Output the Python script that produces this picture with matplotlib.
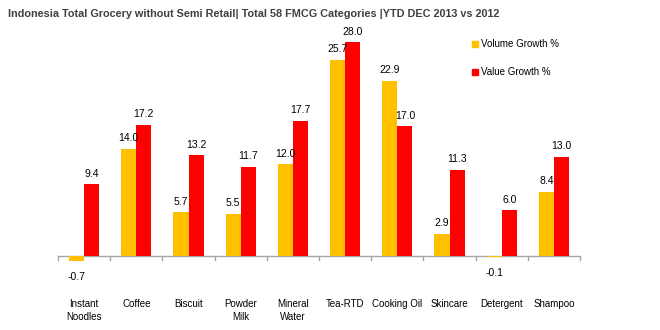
import matplotlib
matplotlib.use("Agg")
import matplotlib.pyplot as plt
import numpy as np

plt.rcParams['font.family'] = ['Liberation Sans', 'DejaVu Sans']

categories = ["Instant\nNoodles", "Coffee", "Biscuit", "Powder\nMilk", "Mineral\nWater",
              "Tea-RTD", "Cooking Oil", "Skincare", "Detergent", "Shampoo"]
volume_growth = [-0.7, 14.0, 5.7, 5.5, 12.0, 25.7, 22.9, 2.9, -0.1, 8.4]
value_growth = [9.4, 17.2, 13.2, 11.7, 17.7, 28.0, 17.0, 11.3, 6.0, 13.0]
series_names = ["Volume Growth %", "Value Growth %"]

c_vol = "#FFC000"
c_val = "#FF0000"

fig = plt.figure(figsize=(6.6, 3.3), dpi=100)
ax = fig.add_axes([58/660, 1 - 275/330, (580-58)/660, (275-35)/330])

x = np.arange(len(categories))
w = 0.29
ax.bar(x - w/2, volume_growth, w, color=c_vol, zorder=2)
ax.bar(x + w/2, value_growth, w, color=c_val, zorder=2)

ax.set_xlim(-0.5, len(categories) - 0.5)
ax.set_ylim(-2.5, (256-35)/7.64)

for s in ax.spines.values():
    s.set_visible(False)
ax.set_xticks([])
ax.set_yticks([])

# zero baseline with boundary tick marks
ax.axhline(0, color="#A6A6A6", lw=1, zorder=1)
for b in np.arange(-0.5, len(categories), 1.0):
    ax.plot([b, b], [0, -0.55], color="#A6A6A6", lw=1, zorder=1, clip_on=False)

def label(xp, v):
    if v >= 0:
        ax.annotate(f"{v:.1f}", (xp, v), xytext=(0, 4), textcoords="offset points",
                    ha="center", va="bottom", fontsize=7.5, color="#000000")
    else:
        ax.annotate(f"{v:.1f}", (xp, v), xytext=(0, -8), textcoords="offset points",
                    ha="center", va="top", fontsize=7.5, color="#000000")

for xi, v in zip(x, volume_growth):
    label(xi - w/2, v)
for xi, v in zip(x, value_growth):
    label(xi + w/2, v)

# category labels below the axis
trans = ax.get_xaxis_transform()
for xi, c in zip(x, categories):
    ax.text(xi, -(299 - 275) / 240, c, transform=trans, ha="center", va="top",
            fontsize=7, linespacing=1.4)

# legend
for i, (name, col) in enumerate(zip(series_names, [c_vol, c_val])):
    yy = 1 - (44 + 28*i) / 330
    fig.patches.append(plt.Rectangle((472/660, yy - 3/330), 6/660, 6/330,
                                     transform=fig.transFigure, color=col))
    fig.text(481/660, yy, name, fontsize=7, va="center", ha="left")

fig.text(254/660, 1 - 14/330,
         "Indonesia Total Grocery without Semi Retail| Total 58 FMCG Categories |YTD DEC 2013 vs 2012",
         ha="center", va="center", fontsize=7.8, fontweight="bold", color="#404040")

fig.savefig("out.png", dpi=100)
